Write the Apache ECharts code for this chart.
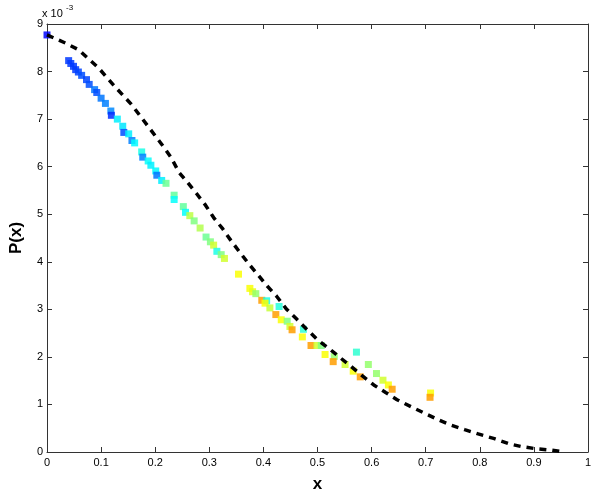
<!DOCTYPE html>
<html>
<head>
<meta charset="utf-8">
<script src="https://cdn.jsdelivr.net/npm/echarts@6/dist/echarts.min.js"></script>
<style>
  html, body { margin: 0; padding: 0; background: #fff; }
  #chart { width: 596px; height: 498px; }
</style>
</head>
<body>
<div id="chart"></div>
<script>
// scatter points: x, P(x) (units of 1e-3), colour value on a jet scale
const pointX = [0.000, 0.040, 0.044, 0.049, 0.053, 0.058, 0.064, 0.073, 0.078, 0.088,
  0.092, 0.100, 0.108, 0.118, 0.119, 0.130, 0.140, 0.142, 0.151, 0.157,
  0.162, 0.175, 0.177, 0.187, 0.192, 0.201, 0.203, 0.212, 0.220, 0.235,
  0.235, 0.252, 0.256, 0.264, 0.272, 0.283, 0.294, 0.302, 0.308, 0.314,
  0.322, 0.328, 0.354, 0.375, 0.380, 0.386, 0.397, 0.406, 0.403, 0.412,
  0.429, 0.423, 0.433, 0.444, 0.449, 0.453, 0.474, 0.472, 0.488, 0.499,
  0.507, 0.514, 0.531, 0.529, 0.551, 0.572, 0.566, 0.594, 0.579, 0.609,
  0.621, 0.631, 0.638, 0.709, 0.708]
const pointY = [8.77, 8.23, 8.17, 8.11, 8.04, 7.99, 7.92, 7.83, 7.73, 7.62,
  7.56, 7.44, 7.33, 7.17, 7.08, 7.00, 6.85, 6.72, 6.69, 6.55,
  6.50, 6.31, 6.20, 6.12, 6.03, 5.91, 5.82, 5.71, 5.65, 5.40,
  5.31, 5.16, 5.04, 4.97, 4.86, 4.71, 4.52, 4.42, 4.35, 4.22,
  4.15, 4.07, 3.74, 3.44, 3.37, 3.33, 3.19, 3.18, 3.13, 3.03,
  3.06, 2.89, 2.78, 2.75, 2.64, 2.57, 2.58, 2.42, 2.24, 2.24,
  2.24, 2.05, 2.01, 1.90, 1.84, 2.10, 1.70, 1.84, 1.58, 1.65,
  1.51, 1.41, 1.32, 1.24, 1.15]
const pointC = [0.13, 0.18, 0.18, 0.18, 0.18, 0.19, 0.20, 0.19, 0.20, 0.24,
  0.20, 0.24, 0.25, 0.26, 0.17, 0.36, 0.35, 0.20, 0.36, 0.25,
  0.37, 0.40, 0.25, 0.38, 0.36, 0.37, 0.24, 0.36, 0.48, 0.47,
  0.38, 0.47, 0.38, 0.56, 0.50, 0.55, 0.48, 0.50, 0.58, 0.40,
  0.50, 0.58, 0.62, 0.62, 0.60, 0.52, 0.72, 0.40, 0.62, 0.57,
  0.41, 0.72, 0.62, 0.50, 0.58, 0.72, 0.42, 0.62, 0.72, 0.58,
  0.50, 0.62, 0.52, 0.72, 0.58, 0.42, 0.62, 0.52, 0.72, 0.52,
  0.58, 0.62, 0.72, 0.62, 0.72]

// dashed reference curve
const curveX = [0, 0.034, 0.058, 0.095, 0.125, 0.156, 0.186, 0.214, 0.229, 0.244,
  0.259, 0.276, 0.293, 0.308, 0.325, 0.341, 0.357, 0.374, 0.391, 0.407,
  0.424, 0.443, 0.461, 0.482, 0.5, 0.522, 0.54, 0.562, 0.583, 0.604,
  0.626, 0.647, 0.675, 0.699, 0.723, 0.748, 0.772, 0.797, 0.827, 0.855,
  0.879, 0.903, 0.931, 0.949]
const curveY = [8.77, 8.6, 8.46, 8.08, 7.69, 7.31, 6.86, 6.44, 6.2, 5.88,
  5.68, 5.44, 5.19, 4.93, 4.69, 4.43, 4.19, 3.94, 3.71, 3.49,
  3.28, 3.0, 2.8, 2.56, 2.36, 2.17, 2.0, 1.8, 1.6, 1.41,
  1.25, 1.1, 0.94, 0.81, 0.68, 0.56, 0.47, 0.38, 0.28, 0.17,
  0.11, 0.07, 0.04, 0.01]

const font = 'Liberation Sans, Arial, Helvetica, sans-serif'
const axisColor = '#333'

const chart = echarts.init(document.getElementById('chart'), null, {renderer: 'canvas'})

const boxAxis = (pos) => ({
  position: pos,
  axisLine: {show: true, onZero: false, lineStyle: {color: axisColor, width: 1}},
  axisTick: {show: true, inside: true, length: 5, lineStyle: {color: axisColor}},
  splitLine: {show: false},
})

chart.setOption({
  animation: false,
  textStyle: {fontFamily: font},
  grid: {left: 42, right: 8, top: 24, bottom: 42, containLabel: false},
  xAxis: [
    {
      type: 'value', min: 0, max: 1, interval: 0.1,
      ...boxAxis('bottom'),
      name: 'x', nameLocation: 'middle', nameGap: 24,
      nameTextStyle: {fontFamily: font, fontSize: 17, fontWeight: 'bold', color: '#000'},
      axisLabel: {fontFamily: font, fontSize: 11, color: '#000', margin: 5},
    },
    {
      type: 'value', min: 0, max: 1, interval: 0.1,
      ...boxAxis('top'),
      axisLabel: {show: false},
    },
  ],
  yAxis: [
    {
      type: 'value', min: 0, max: 9, interval: 1,
      ...boxAxis('left'),
      name: 'P(x)', nameLocation: 'middle', nameGap: 22,
      nameTextStyle: {fontFamily: font, fontSize: 17, fontWeight: 'bold', color: '#000'},
      axisLabel: {fontFamily: font, fontSize: 11, color: '#000', margin: 4},
    },
    {
      type: 'value', min: 0, max: 9, interval: 1,
      ...boxAxis('right'),
      axisLabel: {show: false},
    },
  ],
  visualMap: {
    show: false,
    type: 'continuous',
    dimension: 2,
    seriesIndex: 0,
    min: 0,
    max: 1,
    inRange: {
      color: ['#00008f', '#0000ff', '#0080ff', '#00ffff', '#80ff80', '#ffff00', '#ff8000', '#ff0000', '#800000'],
    },
  },
  graphic: [
    {type: 'text', left: 42, top: 8, style: {text: 'x 10', fontFamily: font, fontSize: 11, fill: '#000'}},
    {type: 'text', left: 66, top: 4, style: {text: '-3', fontFamily: font, fontSize: 8, fill: '#000'}},
  ],
  series: [
    {
      type: 'scatter',
      symbol: 'rect',
      symbolSize: 7,
      itemStyle: {opacity: 0.85},
      data: pointX.map((x, i) => [x, pointY[i], pointC[i]]),
      z: 2,
    },
    {
      type: 'line',
      showSymbol: false,
      lineStyle: {color: '#000', width: 3.5, type: [7, 6]},
      data: curveX.map((x, i) => [x, curveY[i]]),
      z: 3,
    },
  ],
})
</script>
</body>
</html>
